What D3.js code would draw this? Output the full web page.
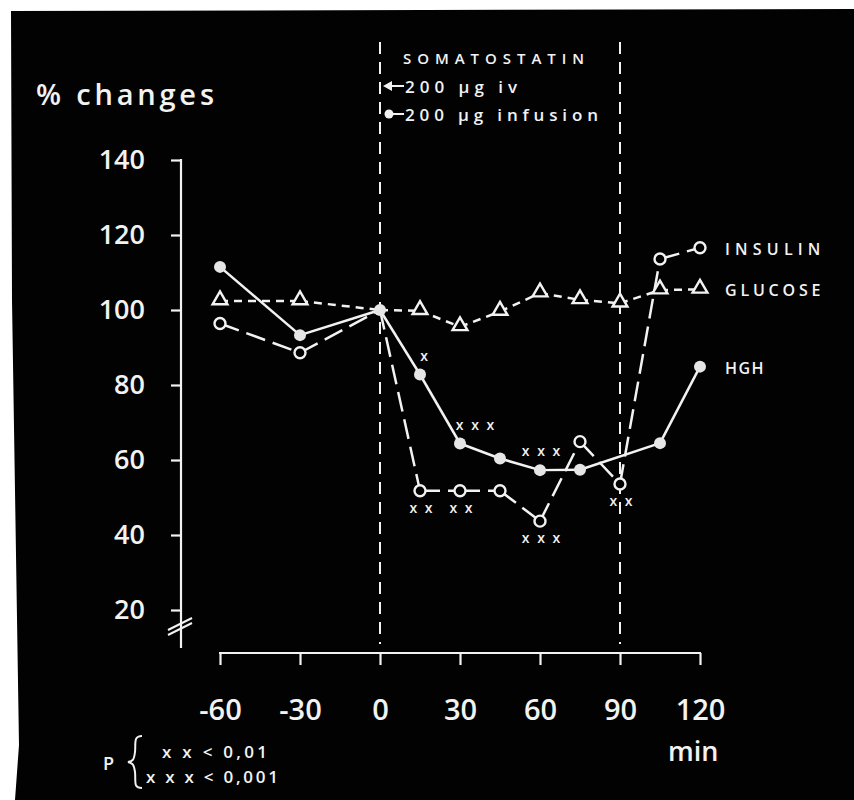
<!DOCTYPE html>
<html>
<head>
<meta charset="utf-8">
<script src="https://cdn.jsdelivr.net/npm/d3@7"></script>
<style>
  html, body { margin: 0; padding: 0; background: #fff; }
  text { font-family: "Open Sans", "DejaVu Sans", sans-serif; fill: #f2f2f2; }
</style>
</head>
<body>
<svg id="chart" width="854" height="800"></svg>
<script>
// Sampling times (min) relative to the start of somatostatin
const times = [-60, -30, 0, 15, 30, 45, 60, 75, 90, 105, 120];
// % of baseline values; null = not sampled
const hgh     = [111.5, 93.3, 100, 82.8, 64.4, 60.4, 57.3, 57.4, null, 64.5, 84.9];
const insulin = [96.4, 88.6, 100, 51.8, 51.8, 51.8, 43.7, 64.9, 53.6, 113.6, 116.6];
const glucose = [102.4, 102.4, 100, 99.8, 95.5, 99.6, 104.5, 102.7, 101.8, 105.3, 105.5];

const xTicks = [-60, -30, 0, 30, 60, 90, 120];
const yTicks = [20, 40, 60, 80, 100, 120, 140];
const treatmentBounds = [0, 90];

// Significance marks (xx p<0.01, xxx p<0.001)
const sigSeries = ["hgh", "hgh", "hgh", "insulin", "insulin", "insulin", "insulin"];
const sigTimes  = [15, 30, 60, 15, 30, 60, 90];
const sigText   = ["x", "x x x", "x x x", "x x", "x x", "x x x", "x x"];
const sigSide   = ["above", "above", "above", "below", "below", "below", "below"];

const svg = d3.select("#chart");

// photo background: black print with a thin white margin
svg.append("polygon")
  .attr("points", "11,11 854,9 854,800 15,800 19,745 12,300")
  .attr("fill", "#020202");

const x = d3.scaleLinear().domain([-60, 120]).range([220, 700]);
const y = d3.scaleLinear().domain([20, 140]).range([610, 160]);

const W = "#f2f2f2";

// treatment period boundaries
treatmentBounds.forEach(t => {
  svg.append("line")
    .attr("x1", x(t)).attr("x2", x(t))
    .attr("y1", 42).attr("y2", 644)
    .attr("stroke", W).attr("stroke-width", 2)
    .attr("stroke-dasharray", "12,8");
});

// y axis
const yAxis = d3.axisLeft(y).tickValues(yTicks).tickSize(10).tickSizeOuter(0).tickPadding(26);
const yg = svg.append("g").attr("transform", "translate(181,0)").call(yAxis);
yg.select(".domain").remove();
yg.selectAll(".tick line").attr("stroke", W).attr("stroke-width", 2.2);
yg.selectAll(".tick text")
  .attr("fill", W).attr("font-size", 27).attr("font-weight", 600)
  .attr("font-family", "'Open Sans', sans-serif");
svg.append("line")
  .attr("x1", 181).attr("x2", 181).attr("y1", y(140) - 1).attr("y2", y(20) + 38)
  .attr("stroke", W).attr("stroke-width", 2.2);
// axis break marks
[0, 5].forEach(d => {
  svg.append("line")
    .attr("x1", 168).attr("y1", y(20) + 25 - d)
    .attr("x2", 192).attr("y2", y(20) + 13 - d)
    .attr("stroke", W).attr("stroke-width", 2);
});

// x axis
const xAxis = d3.axisBottom(x).tickValues(xTicks).tickSize(12).tickSizeOuter(0)
  .tickFormat(d => d < 0 ? "-" + Math.abs(d) : d);
const xg = svg.append("g").attr("transform", "translate(0,653)").call(xAxis);
xg.select(".domain").remove();
xg.selectAll(".tick line").attr("stroke", W).attr("stroke-width", 2.2);
xg.selectAll(".tick text")
  .attr("fill", W).attr("font-size", 29).attr("font-weight", 600)
  .attr("y", 67).attr("dy", 0)
  .attr("font-family", "'Open Sans', sans-serif");
svg.append("line")
  .attr("x1", x(-60) - 1).attr("x2", x(120) + 1).attr("y1", 653).attr("y2", 653)
  .attr("stroke", W).attr("stroke-width", 2.2);

svg.append("text").attr("x", 668).attr("y", 761).attr("font-size", 27)
  .attr("font-weight", 600).text("min");
svg.append("text").attr("x", 36).attr("y", 105).attr("font-size", 29).attr("font-weight", 600)
  .attr("textLength", 178).attr("lengthAdjust", "spacing").text("% changes");

// legend for the somatostatin period
svg.append("text").attr("x", 403).attr("y", 64).attr("font-size", 15).attr("font-weight", 600)
  .attr("textLength", 181).attr("lengthAdjust", "spacing").text("SOMATOSTATIN");
svg.append("path")
  .attr("d", "M383,86 L392,81 L392,91 Z").attr("fill", W);
svg.append("line").attr("x1", 390).attr("x2", 404).attr("y1", 86).attr("y2", 86)
  .attr("stroke", W).attr("stroke-width", 2);
svg.append("text").attr("x", 405).attr("y", 93).attr("font-size", 17).attr("font-weight", 600)
  .attr("textLength", 112).attr("lengthAdjust", "spacing").text("200 \u00b5g iv");
svg.append("circle").attr("cx", 389).attr("cy", 114).attr("r", 4.5).attr("fill", W);
svg.append("line").attr("x1", 390).attr("x2", 404).attr("y1", 114).attr("y2", 114)
  .attr("stroke", W).attr("stroke-width", 2);
svg.append("text").attr("x", 405).attr("y", 121).attr("font-size", 17).attr("font-weight", 600)
  .attr("textLength", 193).attr("lengthAdjust", "spacing").text("200 \u00b5g infusion");

// series lines: each interval drawn on its own so every dash pattern restarts at a sample
const pts = vals => times.map((t, i) => ({ t, v: vals[i] })).filter(d => d.v !== null);
const line = d3.line().x(d => x(d.t)).y(d => y(d.v));

const series = [
  { key: "glucose", name: "GLUCOSE", vals: glucose, dash: "8,6" },
  { key: "insulin", name: "INSULIN", vals: insulin, dash: "20,8" },
  { key: "hgh", name: "HGH", vals: hgh, dash: null }
];
const byKey = {};
series.forEach(s => { byKey[s.key] = s; });

series.forEach(s => {
  const p = pts(s.vals);
  const segs = d3.pairs(p);
  svg.append("g").selectAll("path").data(segs).join("path")
    .attr("d", line)
    .attr("fill", "none")
    .attr("stroke", W)
    .attr("stroke-width", 2.5)
    .attr("stroke-dasharray", s.dash);
});

// markers (the common 100 % point at t = 0 carries only the filled dot)
const tri = d3.symbol().type(d3.symbolTriangle).size(95);
svg.append("g").selectAll("path").data(pts(glucose).filter(d => d.t !== 0)).join("path")
  .attr("d", tri)
  .attr("transform", d => `translate(${x(d.t)},${y(d.v) - 1})`)
  .attr("fill", "#020202").attr("stroke", W).attr("stroke-width", 2.4);
svg.append("g").selectAll("circle").data(pts(insulin).filter(d => d.t !== 0)).join("circle")
  .attr("cx", d => x(d.t)).attr("cy", d => y(d.v)).attr("r", 5.5)
  .attr("fill", "#020202").attr("stroke", W).attr("stroke-width", 2.4);
svg.append("g").selectAll("circle").data(pts(hgh)).join("circle")
  .attr("cx", d => x(d.t)).attr("cy", d => y(d.v)).attr("r", 6)
  .attr("fill", "#e6e6e6");

// series names at the right end
series.forEach(s => {
  const p = pts(s.vals);
  const last = p[p.length - 1];
  svg.append("text")
    .attr("x", x(last.t) + 25).attr("y", y(last.v) + 7)
    .attr("font-size", 16).attr("font-weight", 600)
    .attr("textLength", s.name.length * 14.2 - 4).attr("lengthAdjust", "spacing")
    .text(s.name);
});

// significance marks
sigText.forEach((txt, i) => {
  const s = byKey[sigSeries[i]];
  const v = s.vals[times.indexOf(sigTimes[i])];
  const above = sigSide[i] === "above";
  const shift = txt.length > 1 && above && sigTimes[i] === 30 ? 16 : (txt.length === 1 ? 5 : 2);
  svg.append("text")
    .attr("x", x(sigTimes[i]) + shift)
    .attr("y", y(v) + (above ? -14 : 22))
    .attr("text-anchor", "middle")
    .attr("font-size", 14).attr("font-weight", 600)
    .attr("letter-spacing", 2)
    .text(txt);
});

// p-value key
svg.append("text").attr("x", 103).attr("y", 770).attr("font-size", 18).attr("font-weight", 600).text("P");
svg.append("path")
  .attr("d", "M142,736 C133,736 136,744 135,752 C134,760 133,761 128,762 C133,763 134,765 135,772 C136,782 133,788 142,788")
  .attr("fill", "none").attr("stroke", W).attr("stroke-width", 2);
svg.append("text").attr("x", 162).attr("y", 758).attr("font-size", 17).attr("font-weight", 600)
  .attr("textLength", 105).attr("lengthAdjust", "spacing").text("x x < 0,01");
svg.append("text").attr("x", 146).attr("y", 783).attr("font-size", 17).attr("font-weight", 600)
  .attr("textLength", 132).attr("lengthAdjust", "spacing").text("x x x < 0,001");
</script>
</body>
</html>
